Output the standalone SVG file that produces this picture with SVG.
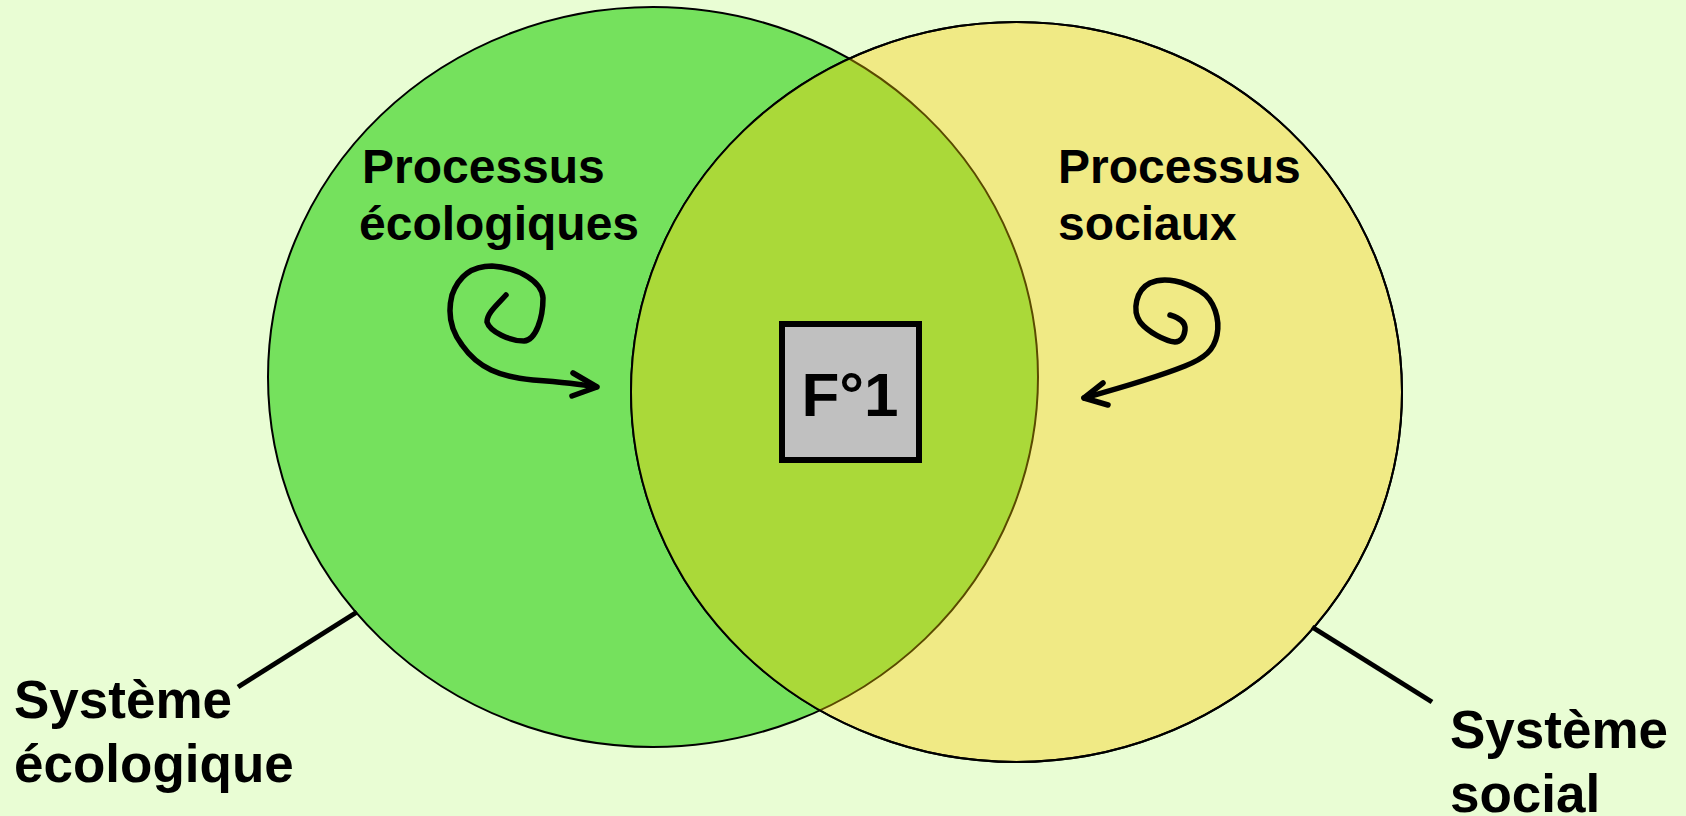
<svg xmlns="http://www.w3.org/2000/svg" width="1686" height="816" viewBox="0 0 1686 816">
<defs>
<style>
.lbl{font-family:"Liberation Sans",Arial,sans-serif;font-weight:bold;fill:#000}
.p{font-size:48px}
.s{font-size:53px}
.ln{stroke:#000;stroke-width:5;fill:none}
.sp{stroke:#000;stroke-width:5.5;fill:none;stroke-linecap:round;stroke-linejoin:round}
</style>
<clipPath id="clipY"><ellipse cx="1016.5" cy="392" rx="385.5" ry="370"/></clipPath>
</defs>
<rect width="1686" height="816" fill="#E9FDD4"/>
<g id="systeme-ecologique">
<ellipse cx="653" cy="377" rx="385" ry="370" fill="#75E15D" stroke="#000" stroke-width="2"/>
</g>
<g id="systeme-social">
<ellipse cx="1016.5" cy="392" rx="385.5" ry="370" fill="#F0EA85" stroke="#000" stroke-width="2"/>
</g>
<g id="intersection">
<ellipse cx="653" cy="377" rx="385" ry="370" fill="#AAD939" stroke="#5A4A00" stroke-width="2" clip-path="url(#clipY)"/>
<ellipse cx="1016.5" cy="392" rx="385.5" ry="370" fill="none" stroke="#000" stroke-width="2"/>
</g>
<g id="connectors">
<line class="ln" x1="357" y1="612" x2="238" y2="687"/>
<line class="ln" x1="1312" y1="627" x2="1432" y2="702"/>
<path class="sp" d="M506,295 C497,305 487,313 487,322 C490,332 510,341 524,341 C536,340 543,318 543,298 C542,282 520,268 492,266 C470,266 458,278 452,295 C447,315 452,332 462,345 C478,368 500,377 533,380 C560,382 580,384 596,387"/>
<path class="sp" d="M573,373 L597,387 L572,396"/>
<path class="sp" d="M1170,315 C1180,318 1186,323 1185,330 C1184,338 1180,342 1175,342 C1165,341 1148,332 1140,322 C1132,310 1136,290 1150,283 C1165,276 1185,282 1200,291 C1215,300 1220,320 1217,335 C1214,350 1205,358 1185,366 C1160,376 1120,388 1084,398"/>
<path class="sp" d="M1103,383 L1084,398 L1108,405"/>
</g>
<g id="processus-ecologiques">
<text class="lbl p" x="362" y="183">Processus</text>
<text class="lbl p" x="359" y="240">écologiques</text>
</g>
<g id="processus-sociaux">
<text class="lbl p" x="1058" y="183">Processus</text>
<text class="lbl p" x="1058" y="240">sociaux</text>
</g>
<g id="f1">
<rect x="782" y="324" width="137" height="136" fill="#C0C0C0" stroke="#000" stroke-width="6"/>
<text class="lbl" x="850" y="416" font-size="62" text-anchor="middle">F°1</text>
</g>
<g id="label-ecologique">
<text class="lbl s" x="14" y="718">Système</text>
<text class="lbl s" x="14" y="782">écologique</text>
</g>
<g id="label-social">
<text class="lbl s" x="1450" y="748">Système</text>
<text class="lbl s" x="1450" y="812">social</text>
</g>
</svg>
